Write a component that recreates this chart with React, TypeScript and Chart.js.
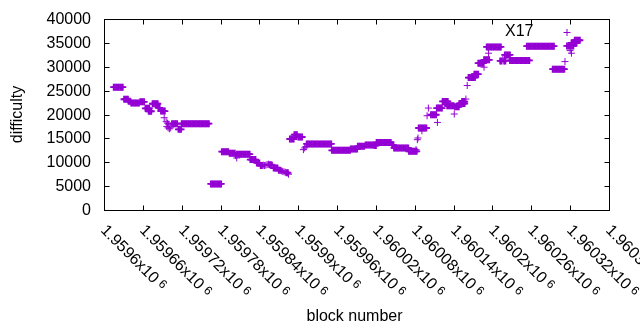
import React, { useEffect, useRef } from "react";
import { Chart, registerables } from "chart.js";

Chart.register(...registerables);

const seriesLabel = "X17";
const xAxisTitle = "block number";
const yAxisTitle = "difficulty";

const blockNumbers = [
  1959615, 1959617, 1959619, 1959621, 1959623, 1959625, 1959627, 1959629,
  1959631, 1959633, 1959635, 1959637, 1959638, 1959640,
  1959642, 1959644, 1959646, 1959648, 1959650, 1959652, 1959654,
  1959656, 1959658, 1959660, 1959662,
  1959664, 1959666, 1959668, 1959670, 1959669, 1959671, 1959673,
  1959675, 1959677, 1959679, 1959681, 1959683, 1959684, 1959686,
  1959688, 1959690, 1959692, 1959694, 1959693,
  1959696, 1959698, 1959700, 1959697, 1959699, 1959701, 1959703,
  1959705, 1959707, 1959709, 1959711, 1959713, 1959715, 1959717, 1959719,
  1959720, 1959722, 1959724, 1959726, 1959728, 1959730, 1959732, 1959734, 1959736, 1959738, 1959740,
  1959742, 1959744, 1959746, 1959748, 1959750, 1959752, 1959754, 1959756, 1959758, 1959760, 1959762,
  1959765, 1959767, 1959769, 1959771, 1959773, 1959775, 1959777, 1959779, 1959781,
  1959782, 1959784, 1959786, 1959788, 1959790, 1959792,
  1959794, 1959796, 1959798, 1959800, 1959802, 1959803, 1959805,
  1959805, 1959807, 1959809, 1959811, 1959813, 1959815, 1959817, 1959819, 1959821, 1959823, 1959825,
  1959826, 1959828, 1959830, 1959832, 1959834, 1959836, 1959838, 1959840,
  1959842, 1959844, 1959846, 1959848, 1959850, 1959852, 1959854, 1959856, 1959858, 1959860,
  1959862, 1959864, 1959866, 1959868,
  1959870, 1959872, 1959874, 1959876, 1959878, 1959880, 1959882, 1959884, 1959885,
  1959887, 1959889, 1959891, 1959893, 1959894, 1959896, 1959898, 1959900, 1959902, 1959904, 1959906,
  1959908, 1959910, 1959912,
  1959913, 1959915, 1959917, 1959919, 1959921, 1959923, 1959925, 1959927, 1959929, 1959931,
  1959933, 1959935, 1959937, 1959939, 1959941, 1959943, 1959945, 1959947, 1959949, 1959951,
  1959952, 1959954, 1959956, 1959958, 1959960, 1959962, 1959964, 1959966, 1959968, 1959970,
  1959972, 1959974, 1959976, 1959978, 1959980,
  1959981, 1959983, 1959985, 1959987, 1959989, 1959991,
  1959992, 1959994, 1959996, 1959998, 1960000, 1960002,
  1960004, 1960006, 1960008, 1960010, 1960012, 1960014, 1960016, 1960018, 1960020,
  1960021, 1960023, 1960025, 1960027, 1960029, 1960031, 1960033, 1960035, 1960037, 1960039, 1960041, 1960043,
  1960045, 1960047,
  1960048, 1960050, 1960052, 1960054, 1960056, 1960058, 1960060, 1960062, 1960064, 1960066, 1960068, 1960070,
  1960071, 1960073, 1960075, 1960077, 1960079, 1960081, 1960083,
  1960082, 1960084, 1960085,
  1960086, 1960088, 1960090, 1960092, 1960094, 1960096, 1960098, 1960091,
  1960099, 1960101,
  1960105, 1960107, 1960109, 1960111, 1960113, 1960115,
  1960114, 1960116, 1960118, 1960120, 1960122,
  1960123, 1960125, 1960127, 1960129, 1960131,
  1960130, 1960132, 1960134, 1960136, 1960138, 1960140, 1960141,
  1960142, 1960144, 1960146, 1960148,
  1960149, 1960151, 1960153, 1960155, 1960157,
  1960153, 1960155, 1960157, 1960159,
  1960161,
  1960163, 1960165, 1960167, 1960169, 1960171, 1960173,
  1960172, 1960174, 1960176, 1960178,
  1960178, 1960180, 1960182, 1960184, 1960186, 1960187,
  1960187, 1960189, 1960191, 1960193, 1960195, 1960194,
  1960191, 1960193, 1960195, 1960197, 1960199, 1960201, 1960203, 1960205, 1960207, 1960209, 1960211, 1960213,
  1960212, 1960214, 1960216, 1960218, 1960220,
  1960219, 1960221, 1960223, 1960225, 1960227,
  1960227, 1960229, 1960231, 1960233, 1960235, 1960237, 1960239, 1960241,
  1960243, 1960245, 1960247, 1960249, 1960251, 1960253, 1960255, 1960257,
  1960253, 1960255, 1960257, 1960259, 1960261, 1960263, 1960265, 1960267, 1960269, 1960271, 1960273,
  1960275, 1960277, 1960279, 1960281, 1960283, 1960285, 1960287, 1960289, 1960291, 1960293, 1960295,
  1960293, 1960295, 1960297, 1960299, 1960301, 1960303, 1960305, 1960307, 1960309, 1960311,
  1960312,
  1960315, 1960317, 1960319, 1960321, 1960323, 1960325, 1960320, 1960322,
  1960322, 1960324, 1960326, 1960328, 1960330,
  1960327, 1960329, 1960331, 1960333, 1960335,
];

const difficulty = [
  25720, 25720, 25720, 25720, 25720, 25720, 25720, 25720,
  23190, 23190, 23190, 23190, 22800, 22800,
  22400, 22400, 22400, 22400, 22400, 22400, 22400,
  22660, 22660, 22660, 22660,
  21300, 21300, 21300, 21300, 20680, 20680, 20680,
  22250, 22250, 22250, 22250, 22250, 21400, 21400,
  20720, 20720, 20720, 20720, 19320,
  18500, 18200, 18000, 17500, 17200, 17000, 17200,
  18070, 18070, 18070, 18070, 18070, 16900, 16900, 16900,
  18070, 18070, 18070, 18070, 18070, 18070, 18070, 18070, 18070, 18070, 18070,
  18070, 18070, 18070, 18070, 18070, 18070, 18070, 18070, 18070, 18070, 18070,
  5470, 5470, 5470, 5470, 5470, 5470, 5470, 5470, 5470,
  12220, 12220, 12220, 12220, 12220, 12220,
  11900, 11900, 11900, 11900, 11900, 11400, 10900,
  11700, 11700, 11700, 11700, 11700, 11700, 11700, 11700, 11700, 11700, 11700,
  10550, 10550, 10550, 10550, 10550, 9860, 9860, 9860,
  9300, 9300, 9400, 9300, 9400, 9500, 9600, 9500, 9500, 9400,
  8800, 8800, 8800, 8800,
  8300, 8300, 8200, 8100, 8000, 7900, 7800, 7800, 7500,
  14870, 14870, 14870, 14870, 15770, 15770, 15770, 15290, 15290, 15290, 15290,
  12640, 13000, 13300,
  13830, 13830, 13830, 13830, 13830, 13830, 13830, 13830, 13830, 13830,
  13830, 13830, 13830, 13830, 13830, 13830, 13830, 13830, 13830, 13830,
  12490, 12490, 12490, 12490, 12490, 12490, 12490, 12490, 12490, 12490,
  12490, 12490, 12490, 12490, 12490,
  12780, 12780, 12780, 12780, 12780, 12780,
  13330, 13330, 13330, 13330, 13330, 13330,
  13620, 13620, 13620, 13620, 13620, 13620, 13620, 13500, 13500,
  14160, 14160, 14160, 14160, 14160, 14160, 14160, 14160, 14160, 14160, 14160, 14160,
  13600, 13600,
  12990, 12990, 12990, 12990, 12990, 12990, 12990, 12990, 12990, 12990, 12990, 12990,
  12280, 12280, 12280, 12280, 12280, 12280, 12280,
  12640, 14730, 15080,
  17170, 17170, 17170, 17170, 17170, 17170, 17170, 16600,
  19740, 21350,
  19950, 19950, 19950, 19950, 19950, 18340,
  21350, 21350, 21350, 21350, 21350,
  22730, 22730, 22730, 22730, 22730,
  21830, 21830, 21830, 21830, 21830, 21830, 20100,
  21600, 21600, 21600, 21600,
  22300, 22300, 22300, 22300, 22300,
  22700, 22700, 22700, 23230,
  26070,
  27740, 27740, 27740, 27740, 27740, 27740,
  28450, 28450, 28450, 28450,
  30750, 30750, 30750, 30750, 30750, 29910,
  31440, 31440, 31440, 31440, 31440, 32840,
  34150, 34150, 34150, 34150, 34150, 34150, 34150, 34150, 34150, 34150, 34150, 34150,
  31230, 31230, 31590, 31230, 31230,
  32480, 32480, 32480, 32480, 32480,
  31330, 31330, 31330, 31330, 31330, 31330, 31330, 31330,
  31330, 31330, 31330, 31330, 31330, 31330, 31330, 31330,
  34300, 34300, 34300, 34300, 34300, 34300, 34300, 34300, 34300, 34300, 34300,
  34300, 34300, 34300, 34300, 34300, 34300, 34300, 34300, 34300, 34300, 34300,
  29500, 29500, 29500, 29500, 29500, 29500, 29500, 29500, 29500, 29500,
  31080,
  34370, 34370, 34370, 34370, 34370, 34370, 33380, 32840,
  35000, 35000, 35000, 35000, 35000,
  35550, 35550, 35550, 35550, 35550,
];

const xTickValues = [
  1959600, 1959660, 1959720, 1959780, 1959840, 1959900, 1959960,
  1960020, 1960080, 1960140, 1960200, 1960260, 1960320, 1960380,
];
const xExponent = 6;
const yTickValues = [0, 5000, 10000, 15000, 20000, 25000, 30000, 35000, 40000];

const FONT = '"Liberation Sans", Arial, Helvetica, sans-serif';
const POINT_COLOR = "#9400d3";

function mantissa(v: number): string {
  return String(parseFloat((v / Math.pow(10, xExponent)).toFixed(6)));
}

const gnuplotFrame = {
  id: "gnuplotFrame",
  afterDraw(chart: any) {
    const ctx = chart.ctx as CanvasRenderingContext2D;
    const { left, right, top, bottom } = chart.chartArea;
    const xs = chart.scales.x;
    const ys = chart.scales.y;
    ctx.save();
    ctx.strokeStyle = "#000";
    ctx.lineWidth = 1;
    ctx.strokeRect(left + 0.5, top + 0.5, right - left, bottom - top);

    const tl = 5;
    ctx.beginPath();
    xTickValues.forEach((v) => {
      const px = Math.round(xs.getPixelForValue(v)) + 0.5;
      ctx.moveTo(px, bottom + 0.5);
      ctx.lineTo(px, bottom + 0.5 - tl);
      ctx.moveTo(px, top + 0.5);
      ctx.lineTo(px, top + 0.5 + tl);
    });
    yTickValues.forEach((v) => {
      const py = Math.round(ys.getPixelForValue(v)) + 0.5;
      ctx.moveTo(left + 0.5, py);
      ctx.lineTo(left + 0.5 + tl, py);
      ctx.moveTo(right + 0.5, py);
      ctx.lineTo(right + 0.5 - tl, py);
    });
    ctx.stroke();

    ctx.fillStyle = "#000";
    ctx.font = `16px ${FONT}`;
    ctx.textAlign = "right";
    ctx.textBaseline = "middle";
    yTickValues.forEach((v) => {
      const py = Math.round(ys.getPixelForValue(v)) + 0.5;
      ctx.fillText(String(v), 91, py);
    });

    xTickValues.forEach((v) => {
      const px = Math.round(xs.getPixelForValue(v));
      ctx.save();
      ctx.translate(px - 1, 228);
      ctx.rotate(Math.PI / 4);
      ctx.textAlign = "left";
      ctx.textBaseline = "middle";
      ctx.font = `16px ${FONT}`;
      const main = mantissa(v) + "x10";
      ctx.fillText(main, 0, 0);
      const w = ctx.measureText(main).width;
      ctx.font = `12px ${FONT}`;
      ctx.fillText(String(xExponent), w + 4, -2);
      ctx.restore();
    });

    ctx.font = `16px ${FONT}`;
    ctx.textAlign = "center";
    ctx.textBaseline = "alphabetic";
    ctx.fillText(xAxisTitle, (left + right) / 2 - 2, 321);

    ctx.save();
    ctx.translate(22, (top + bottom) / 2);
    ctx.rotate(-Math.PI / 2);
    ctx.textAlign = "center";
    ctx.textBaseline = "alphabetic";
    ctx.fillText(yAxisTitle, 0, 0);
    ctx.restore();

    // key
    const label = chart.data.datasets[0].label as string;
    ctx.textAlign = "right";
    ctx.textBaseline = "middle";
    ctx.fillText(label, 533.5, 32);
    ctx.strokeStyle = POINT_COLOR;
    ctx.beginPath();
    ctx.moveTo(563.5, 32.5);
    ctx.lineTo(570.5, 32.5);
    ctx.moveTo(567, 29);
    ctx.lineTo(567, 36);
    ctx.stroke();

    ctx.restore();
  },
};

export default function App() {
  const canvasRef = useRef<HTMLCanvasElement | null>(null);

  useEffect(() => {
    const canvas = canvasRef.current;
    if (!canvas) return;
    const n = Math.min(blockNumbers.length, difficulty.length);
    const points = blockNumbers.slice(0, n).map((b, i) => ({ x: b, y: difficulty[i] }));
    // points that sit inside a run of equal difficulty get a slightly heavier
    // stroke so that densely packed crosses merge into a solid band
    const widths = points.map((p, i) =>
      points.some((q, j) => j !== i && q.y === p.y && Math.abs(q.x - p.x) <= 2) ? 1.8 : 1
    );
    const chart = new Chart(canvas, {
      type: "scatter",
      data: {
        datasets: [
          {
            label: seriesLabel,
            data: points,
            pointStyle: "cross",
            pointRadius: 3.5,
            pointHoverRadius: 3.5,
            borderColor: POINT_COLOR,
            backgroundColor: POINT_COLOR,
            pointBorderColor: POINT_COLOR,
            borderWidth: 1,
            pointBorderWidth: widths,
            showLine: false,
          },
        ],
      },
      options: {
        animation: false,
        responsive: false,
        devicePixelRatio: 1,
        events: [],
        layout: { padding: { left: 104, right: 31, top: 19, bottom: 120 } },
        plugins: {
          legend: { display: false },
          tooltip: { enabled: false },
        },
        scales: {
          x: {
            type: "linear",
            min: xTickValues[0],
            max: xTickValues[xTickValues.length - 1],
            display: false,
          },
          y: {
            min: yTickValues[0],
            max: yTickValues[yTickValues.length - 1],
            display: false,
          },
        },
      },
      plugins: [gnuplotFrame],
    });
    return () => chart.destroy();
  }, []);

  return (
    <div style={{ position: "fixed", left: 0, top: 0, width: 640, height: 330, background: "#fff" }}>
      <canvas ref={canvasRef} width={640} height={330} style={{ display: "block" }} />
    </div>
  );
}
